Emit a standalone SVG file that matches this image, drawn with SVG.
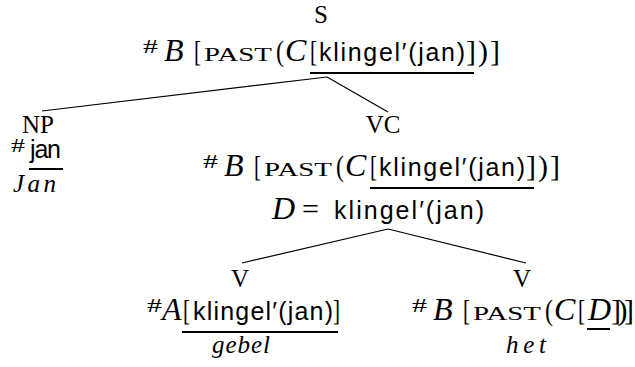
<svg xmlns="http://www.w3.org/2000/svg" width="635" height="367" viewBox="0 0 635 367">
<style>
text { fill: #000; }
.rm { font-family: "Liberation Serif", serif; font-size: 30px; }
.it { font-family: "Liberation Serif", serif; font-style: italic; font-size: 32px; }
.lbl { font-family: "Liberation Serif", serif; font-size: 25px; text-anchor: middle; }
.sc { font-family: "Liberation Serif", serif; font-size: 19px; }
.sup { font-family: "Liberation Serif", serif; font-size: 19px; }
.sf { font-family: "Liberation Sans", sans-serif; font-size: 25px; }
.wd { font-family: "Liberation Serif", serif; font-style: italic; font-size: 25px; }
.ul { stroke: #000; stroke-width: 2; }
.edge { stroke: #000; stroke-width: 1.2; fill: none; }
</style>

<!-- tree edges -->
<g id="edges">
  <line class="edge" x1="327" y1="77" x2="42" y2="111"/>
  <line class="edge" x1="327" y1="77" x2="388" y2="112"/>
  <line class="edge" x1="388" y1="229" x2="242" y2="263"/>
  <line class="edge" x1="388" y1="229" x2="526" y2="263"/>
</g>

<!-- root S -->
<g id="node-s">
  <text class="lbl" x="321" y="23">S</text>
  <g transform="translate(143,61)">
    <text class="sup" x="0" y="-8" textLength="15" lengthAdjust="spacingAndGlyphs">#</text>
    <text class="it" x="21" y="0">B</text>
    <text class="rm" x="51" y="0" textLength="7" lengthAdjust="spacingAndGlyphs">[</text>
    <text class="sc" x="61" y="0" textLength="68" lengthAdjust="spacingAndGlyphs">PAST</text>
    <text class="rm" x="133" y="0" textLength="8" lengthAdjust="spacingAndGlyphs">(</text>
    <text class="it" x="142" y="0">C</text>
    <text class="rm" x="167" y="0" textLength="7" lengthAdjust="spacingAndGlyphs">[</text>
    <text class="sf" x="176" y="0" textLength="146">klingel′(jan)</text>
    <text class="rm" x="323" y="0" textLength="34">])]</text>
    <line class="ul" x1="167" y1="12" x2="331" y2="12"/>
  </g>
</g>

<!-- NP -->
<g id="node-np">
  <text class="lbl" x="38" y="133">NP</text>
  <text class="sup" x="11" y="152" textLength="14" lengthAdjust="spacingAndGlyphs">#</text>
  <text class="sf" x="30" y="158" textLength="31">jan</text>
  <line class="ul" x1="29" y1="169" x2="63" y2="169"/>
  <text class="wd" x="13" y="192" textLength="43">Jan</text>
</g>

<!-- VC -->
<g id="node-vc">
  <text class="lbl" x="383" y="133">VC</text>
  <g transform="translate(203,176)">
    <text class="sup" x="0" y="-8" textLength="15" lengthAdjust="spacingAndGlyphs">#</text>
    <text class="it" x="21" y="0">B</text>
    <text class="rm" x="51" y="0" textLength="7" lengthAdjust="spacingAndGlyphs">[</text>
    <text class="sc" x="61" y="0" textLength="68" lengthAdjust="spacingAndGlyphs">PAST</text>
    <text class="rm" x="133" y="0" textLength="8" lengthAdjust="spacingAndGlyphs">(</text>
    <text class="it" x="142" y="0">C</text>
    <text class="rm" x="167" y="0" textLength="7" lengthAdjust="spacingAndGlyphs">[</text>
    <text class="sf" x="176" y="0" textLength="146">klingel′(jan)</text>
    <text class="rm" x="323" y="0" textLength="34">])]</text>
    <line class="ul" x1="167" y1="12" x2="331" y2="12"/>
  </g>
  <text class="it" x="272" y="219">D</text>
  <text class="rm" x="302" y="219">=</text>
  <text class="sf" x="334" y="219" textLength="150">klingel′(jan)</text>
</g>

<!-- V (gebel) -->
<g id="node-v1">
  <text class="lbl" x="240" y="287">V</text>
  <g transform="translate(147,320)">
    <text class="sup" x="0" y="-8" textLength="15" lengthAdjust="spacingAndGlyphs">#</text>
    <text class="it" x="15" y="0">A</text>
    <text class="rm" x="36" y="0" textLength="7" lengthAdjust="spacingAndGlyphs">[</text>
    <text class="sf" x="46" y="0" textLength="140">klingel′(jan)</text>
    <text class="rm" x="186" y="0" textLength="7" lengthAdjust="spacingAndGlyphs">]</text>
    <line class="ul" x1="35" y1="12" x2="191" y2="12"/>
  </g>
  <text class="wd" x="212" y="353" textLength="58">gebel</text>
</g>

<!-- V (het) -->
<g id="node-v2">
  <text class="lbl" x="522" y="287">V</text>
  <g transform="translate(412,320)">
    <text class="sup" x="0" y="-8" textLength="15" lengthAdjust="spacingAndGlyphs">#</text>
    <text class="it" x="21" y="0">B</text>
    <text class="rm" x="51" y="0" textLength="7" lengthAdjust="spacingAndGlyphs">[</text>
    <text class="sc" x="61" y="0" textLength="68" lengthAdjust="spacingAndGlyphs">PAST</text>
    <text class="rm" x="133" y="0" textLength="8" lengthAdjust="spacingAndGlyphs">(</text>
    <text class="it" x="142" y="0">C</text>
    <text class="rm" x="166" y="0" textLength="7" lengthAdjust="spacingAndGlyphs">[</text>
    <text class="it" x="176" y="0">D</text>
    <text class="rm" x="199" y="0" textLength="23">])]</text>
    <line class="ul" x1="175" y1="9" x2="198" y2="9"/>
  </g>
  <text class="wd" x="506" y="353" textLength="40">het</text>
</g>
</svg>
